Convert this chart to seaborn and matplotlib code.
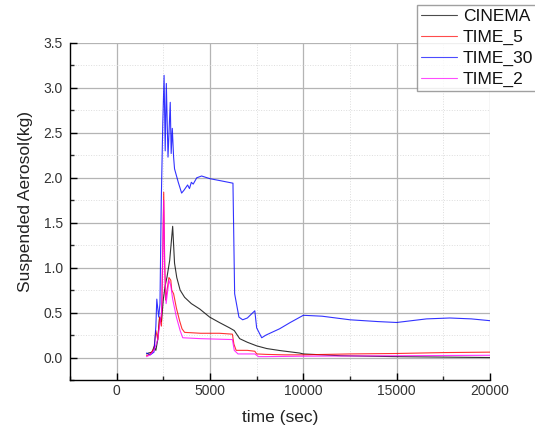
import matplotlib
matplotlib.use("Agg")
import matplotlib.pyplot as plt
import seaborn as sns
import pandas as pd
from matplotlib.ticker import MultipleLocator, FormatStrFormatter

# ---- data ----
cinema_t = [1600, 1700, 1900, 2000, 2100, 2200, 2300, 2400, 2500, 2600, 2700, 2840, 3000, 3100, 3220,
            3400, 3640, 4000, 4450, 4980, 5500, 6050, 6300, 6590, 7000, 7500, 8040, 8730, 9800,
            10000, 12000, 15000, 17500, 20000]
cinema_v = [0.04, 0.05, 0.06, 0.12, 0.08, 0.2, 0.45, 0.4, 0.65, 0.8, 0.9, 1.08, 1.46, 1.05, 0.89,
            0.75, 0.67, 0.6, 0.54, 0.45, 0.39, 0.33, 0.3, 0.21, 0.17, 0.13, 0.10, 0.078, 0.05,
            0.04, 0.02, 0.01, 0.005, 0.0]

time5_t = [1600, 1800, 2000, 2100, 2200, 2300, 2400, 2450, 2520, 2570, 2620, 2700, 2800, 2900,
           2950, 3050, 3200, 3370, 3500, 3640, 4500, 5500, 6200, 6280, 6400, 7000, 7400, 7500,
           8000, 9000, 10000, 12500, 15000, 17500, 20000]
time5_v = [0.02, 0.04, 0.1, 0.3, 0.2, 0.45, 0.35, 0.9, 1.84, 1.1, 0.64, 0.75, 0.89, 0.86,
           0.75, 0.71, 0.55, 0.41, 0.32, 0.28, 0.27, 0.27, 0.26, 0.15, 0.08, 0.08, 0.07, 0.04,
           0.035, 0.03, 0.03, 0.04, 0.045, 0.055, 0.06]

time30_t = [1600, 1800, 2000, 2100, 2150, 2250, 2320, 2390, 2470, 2540, 2600, 2660, 2750, 2870,
            2920, 2980, 3050, 3100, 3300, 3480, 3600, 3800, 3900, 4000, 4100, 4290, 4550, 5000,
            5500, 6230, 6320, 6550, 6750, 7000, 7400, 7500, 7770, 8000, 8730, 9300, 10000, 11000,
            12500, 14000, 15000, 16600, 17850, 19000, 20000]
time30_v = [0.05, 0.03, 0.06, 0.35, 0.65, 0.45, 0.6, 1.75, 2.6, 3.14, 2.3, 3.05, 2.23, 2.84,
            2.27, 2.55, 2.23, 2.1, 1.95, 1.83, 1.86, 1.92, 1.88, 1.95, 1.93, 2.0, 2.02, 1.99,
            1.97, 1.94, 0.71, 0.45, 0.42, 0.44, 0.52, 0.33, 0.22, 0.25, 0.32, 0.39, 0.47, 0.46,
            0.42, 0.40, 0.39, 0.43, 0.44, 0.43, 0.41]

time2_t = [1600, 1800, 2000, 2200, 2300, 2400, 2470, 2520, 2570, 2650, 2800, 2900, 3000, 3200,
           3400, 3540, 4500, 6200, 6300, 6500, 7400, 7600, 8000, 10000, 15000, 20000]
time2_v = [0.01, 0.03, 0.08, 0.2, 0.35, 0.5, 1.2, 1.75, 1.0, 0.6, 0.86, 0.8, 0.65, 0.45,
           0.3, 0.22, 0.21, 0.20, 0.08, 0.04, 0.04, 0.01, 0.01, 0.015, 0.02, 0.025]

series_names = ["CINEMA", "TIME_5", "TIME_30", "TIME_2"]
colors = ["#000000", "#ff0000", "#0000ff", "#ff00ff"]

frames = []
for name, t, v in zip(series_names, [cinema_t, time5_t, time30_t, time2_t],
                      [cinema_v, time5_v, time30_v, time2_v]):
    frames.append(pd.DataFrame({"t": t, "v": v, "series": name}))
df = pd.concat(frames, ignore_index=True)

# ---- plot ----
sns.set_style("white")
plt.rcParams["font.family"] = ["Liberation Sans", "DejaVu Sans"]

fig = plt.figure(figsize=(5.35, 4.28), dpi=100)
ax = fig.add_axes([70 / 535, 1 - 380 / 428, 420 / 535, 337 / 428])

sns.lineplot(data=df, x="t", y="v", hue="series", hue_order=series_names,
             palette=dict(zip(series_names, colors)), estimator=None, sort=False,
             linewidth=0.8, alpha=0.8, ax=ax, legend=False)

ax.set_xlim(-2500, 20000)
ax.set_ylim(-0.25, 3.5)
ax.xaxis.set_major_locator(MultipleLocator(5000))
ax.xaxis.set_minor_locator(MultipleLocator(2500))
ax.yaxis.set_major_locator(MultipleLocator(0.5))
ax.yaxis.set_minor_locator(MultipleLocator(0.25))
ax.yaxis.set_major_formatter(FormatStrFormatter("%.1f"))

ax.grid(which="major", color="#b4b4b4", linewidth=0.9, linestyle="-")
ax.grid(which="minor", color="#dddddd", linewidth=0.7, linestyle=":")
ax.set_axisbelow(True)

for s in ["top", "right"]:
    ax.spines[s].set_visible(False)
for s in ["left", "bottom"]:
    ax.spines[s].set_color("black")
    ax.spines[s].set_linewidth(1.0)

ax.tick_params(which="major", direction="in", length=5, width=1, labelsize=10,
               left=True, bottom=True, colors="black", labelcolor="#333333")
ax.tick_params(axis="y", which="major", pad=5)
ax.tick_params(axis="x", which="major", pad=3)
ax.tick_params(which="minor", direction="in", length=3, width=1, left=True, bottom=True)

ax.set_xlabel("time (sec)", fontsize=12.5, color="#222222")
ax.set_ylabel("Suspended Aerosol(kg)", fontsize=12.5, color="#222222")
ax.xaxis.set_label_coords(0.5, -0.089)
ax.yaxis.set_label_coords(-0.088, 0.531)

handles = [plt.Line2D([], [], color=c, lw=0.8, alpha=0.7) for c in colors]
leg = fig.legend(handles, series_names, loc="upper left", bbox_to_anchor=(417 / 535, 1 - 5 / 428),
                 fontsize=12.5, frameon=True, fancybox=False, edgecolor="#888888",
                 handlelength=2.1, labelspacing=0.33, borderpad=0.23, handletextpad=0.3,
                 borderaxespad=0)
leg.get_frame().set_linewidth(1.0)
for txt in leg.get_texts():
    txt.set_color("#111111")

fig.savefig("out.png", dpi=100)
